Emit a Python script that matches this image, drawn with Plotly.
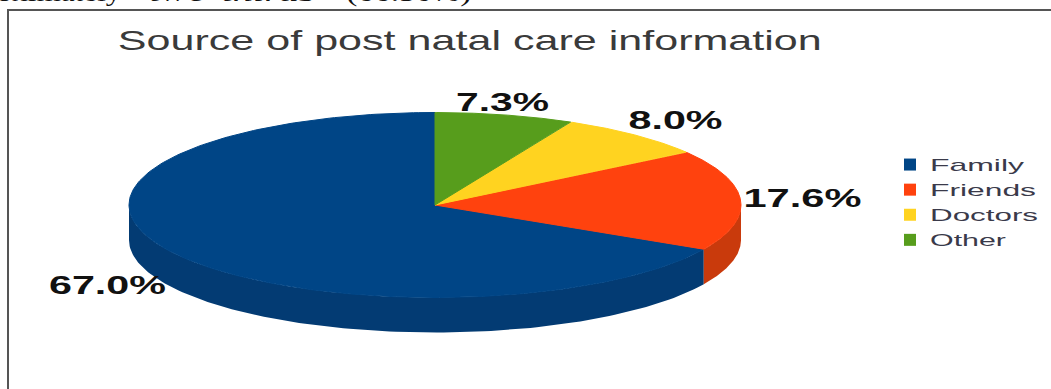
import json

import numpy as np
import plotly.graph_objects as go

# Shares of each information source, in the order they run anticlockwise from 12 o'clock
categories = ["Family", "Friends", "Doctors", "Other"]
shares = [67.0, 17.6, 8.0, 7.3]
value_labels = ["67.0%", "17.6%", "8.0%", "7.3%"]

# Colours of the top face and of the visible rim
top_colors = ["#004586", "#ff420e", "#ffd320", "#579d1c"]
rim_colors = ["#033b73", "#c93a0c", "#d6b01a", "#47800f"]

WIDTH, HEIGHT = 1051, 389
CX, CY, RX, RY, DEPTH = 435, 205, 306, 92.5, 35
LABEL_POS = {"67.0%": (107, 285), "17.6%": (802, 198), "8.0%": (675, 120), "7.3%": (502, 102)}
TITLE = "Source of post natal care information"

# Running body text above the frame: (text, left edge, style)
running_words = [
    ("oximately", 5, "normal"),
    ("two-thirds", 177, "italic"),
    ("(66.50%)", 358, "normal"),
]

# The artwork is wider than it is tall, so every text gets a horizontal extent in pixels
TEXT_WIDTHS = {
    TITLE: 704,
    "67.0%": 117, "17.6%": 118, "8.0%": 94, "7.3%": 93,
    "Family": 94, "Friends": 106, "Doctors": 108, "Other": 76,
    "oximately": 125, "two-thirds": 166, "(66.50%)": 125,
}


def rim_point(theta):
    """Point on the top ellipse, theta measured clockwise from 12 o'clock."""
    return CX + RX * np.sin(theta), CY - RY * np.cos(theta)


# Slice extents: walk clockwise from the top, last category first
total = sum(shares)
spans = {}
angle = 0.0
for name, value in zip(reversed(categories), reversed(shares)):
    sweep = 2 * np.pi * value / total
    spans[name] = (angle, angle + sweep)
    angle += sweep

fig = go.Figure()

# Rim walls only exist on the front half of the disc (90 to 270 degrees)
for name, color in zip(categories, rim_colors):
    start, end = spans[name]
    lo, hi = max(start, np.pi / 2), min(end, 3 * np.pi / 2)
    if lo >= hi:
        continue
    t = np.linspace(lo, hi, 120)
    x, y = rim_point(t)
    fig.add_trace(go.Scatter(
        x=np.r_[x, x[::-1]], y=np.r_[y, y[::-1] + DEPTH],
        mode="lines", fill="toself", fillcolor=color, line=dict(width=0, color=color),
        hoverinfo="skip", showlegend=False, legendgroup=name,
    ))

# Top faces; the thin outline closes the antialiasing seam against the rim
for name, value, color in zip(categories, shares, top_colors):
    start, end = spans[name]
    t = np.linspace(start, end, 240)
    x, y = rim_point(t)
    fig.add_trace(go.Scatter(
        x=np.r_[CX, x, CX], y=np.r_[CY, y, CY],
        mode="lines", fill="toself", fillcolor=color, line=dict(width=1, color=color),
        name=name, text=f"{name}: {value:.1f}%", hoverinfo="text", hoveron="fills",
        showlegend=False, legendgroup=name,
    ))

# Legend entries carry a square swatch
for name, color in zip(categories, top_colors):
    fig.add_trace(go.Scatter(
        x=[None], y=[None], mode="markers", name=name, legendgroup=name,
        marker=dict(symbol="square", size=13, color=color),
    ))

annotations = [
    dict(x=LABEL_POS[label][0], y=LABEL_POS[label][1], text=label, showarrow=False,
         xanchor="center", yanchor="middle",
         font=dict(family="Liberation Sans", size=25, weight=700, color="#111111"))
    for label in value_labels
]
annotations.append(dict(
    x=470, y=40, text=TITLE, showarrow=False, xanchor="center", yanchor="middle",
    font=dict(family="Liberation Sans", size=28, color="#3a3a3a"),
))
for word, left, style in running_words:
    annotations.append(dict(
        x=left, y=9, text=word, showarrow=False, xanchor="left", yanchor="bottom",
        font=dict(family="Liberation Serif", size=26, style=style, color="#111111"),
    ))

fig.update_layout(
    width=WIDTH, height=HEIGHT,
    margin=dict(l=0, r=0, t=0, b=0),
    paper_bgcolor="white", plot_bgcolor="white",
    xaxis=dict(range=[0, WIDTH], visible=False, fixedrange=True),
    yaxis=dict(range=[HEIGHT, 0], visible=False, fixedrange=True),
    annotations=annotations,
    shapes=[dict(type="rect", x0=8, y0=10, x1=WIDTH + 10, y1=HEIGHT + 10,
                 line=dict(color="#555555", width=2), layer="below")],
    legend=dict(
        x=890 / WIDTH, y=1 - 147 / HEIGHT, xanchor="left", yanchor="top",
        font=dict(family="Liberation Sans", size=17, color="#3a3a4a"),
        bgcolor="rgba(0,0,0,0)", itemsizing="constant", tracegroupgap=0,
    ),
)

# Stretch glyphs to their horizontal extents once the page has drawn;
# the legend's clip box was sized for the unstretched labels, so it is lifted
stretch_text = """
var widths = %s;
document.querySelectorAll('.annotation-text, .legendtext').forEach(function (el) {
    var w = widths[el.textContent];
    if (w) {
        el.setAttribute('textLength', w);
        el.setAttribute('lengthAdjust', 'spacingAndGlyphs');
    }
});
document.querySelectorAll('.legend .scrollbox, .legend .traces').forEach(function (el) {
    el.removeAttribute('clip-path');
    el.style.clipPath = 'none';
});
""" % json.dumps(TEXT_WIDTHS)

fig.write_html("out.html", config={"displayModeBar": False}, post_script=stretch_text)
